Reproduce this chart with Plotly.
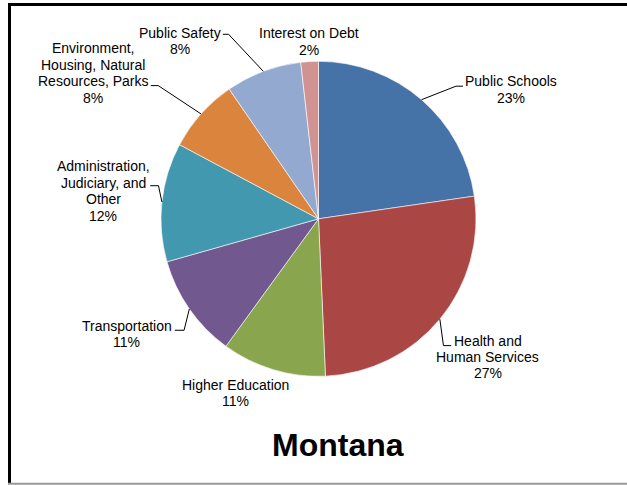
import math
import plotly.graph_objects as go

# Montana state spending by function (share of total, %)
categories = [
    "Public Schools",
    "Health and<br>Human Services",
    "Higher Education",
    "Transportation",
    "Administration,<br>Judiciary, and<br>Other",
    "Environment,<br>Housing, Natural<br>Resources, Parks",
    "Public Safety",
    "Interest on Debt",
]
shares = [22.7, 26.6, 10.7, 10.6, 12.2, 7.6, 7.8, 1.8]
colors = ["#4572A7", "#AA4643", "#89A54E", "#71588F",
          "#4198AF", "#DB843D", "#93A9CF", "#D19392"]
title_text = "Montana"

# canvas and pie geometry (pixels)
W, H = 627, 485
CX, CY, R = 318.5, 218.8, 157.5
FONT = "Liberation Sans, Arial, sans-serif"
LINE = 16.4

# label placement relative to the slice's edge point:
# (text dx, text dy, leader elbow dx, elbow dy, horizontal tail length) or None
label_layout = [
    (89.0, -18.5, (34.5, -13.5, 7.0)),
    (48.1, 21.4, (3.6, 26.4, 7.7)),
    (-37.2, 15.4, None),
    (-62.5, 16.9, (-5.3, 21.3, -9.3)),
    (-58.4, -35.7, (-3.4, -16.3, -8.3)),
    (-108.5, -65.6, (-42.8, -28.3, -7.4)),
    (-83.4, -38.7, (-34.7, -37.0, -5.7)),
    (-1.0, -28.3, None),
]


def px(x):
    return x / W


def py(y):
    return 1 - y / H


fig = go.Figure(go.Pie(
    labels=[c.replace("<br>", " ") for c in categories],
    values=shares,
    sort=False,
    direction="clockwise",
    rotation=0,
    textinfo="none",
    hoverinfo="label+percent",
    marker=dict(colors=colors, line=dict(color="white", width=0.6)),
    domain=dict(x=[px(CX - R), px(CX + R)], y=[py(CY + R), py(CY - R)]),
    showlegend=False,
))

total = sum(shares)
annotations = []
shapes = []
cum = 0.0
for cat, val, (tdx, tdy, leader) in zip(categories, shares, label_layout):
    mid = math.radians(360 * (cum + val / 2) / total)
    cum += val
    ax = CX + R * math.sin(mid)
    ay = CY - R * math.cos(mid)
    lines = cat.split("<br>") + [f"{round(val / total * 100)}%"]
    for i, t in enumerate(lines):
        annotations.append(dict(
            x=px(ax + tdx), y=py(ay + tdy + i * LINE),
            xref="paper", yref="paper", text=t, showarrow=False,
            xanchor="center", yanchor="middle",
            font=dict(family=FONT, size=14, color="#000000"),
        ))
    if leader:
        ex, ey, tail = leader
        x1, y1 = ax + ex, ay + ey
        x2 = x1 + tail
        shapes.append(dict(
            type="path", xref="paper", yref="paper",
            path=f"M {px(ax)} {py(ay)} L {px(x1)} {py(y1)} L {px(x2)} {py(y1)}",
            line=dict(color="#000000", width=1),
        ))

annotations.append(dict(
    x=px(337.5), y=py(445), xref="paper", yref="paper",
    text=f"<b>{title_text}</b>", showarrow=False,
    xanchor="center", yanchor="middle",
    font=dict(family=FONT, size=32, color="#000000"),
))

# frame
shapes += [
    dict(type="line", xref="paper", yref="paper", x0=px(8), x1=1, y0=py(4.5), y1=py(4.5),
         line=dict(color="#000000", width=3)),
    dict(type="line", xref="paper", yref="paper", x0=px(9.5), x1=px(9.5), y0=py(3), y1=py(483.5),
         line=dict(color="#000000", width=3)),
    dict(type="line", xref="paper", yref="paper", x0=px(8), x1=1, y0=py(483.8), y1=py(483.8),
         line=dict(color="#999999", width=2)),
]

fig.update_layout(
    width=W, height=H, autosize=False,
    margin=dict(l=0, r=0, t=0, b=0),
    paper_bgcolor="white", plot_bgcolor="white",
    annotations=annotations, shapes=shapes,
)

fig.write_html("out.html")
